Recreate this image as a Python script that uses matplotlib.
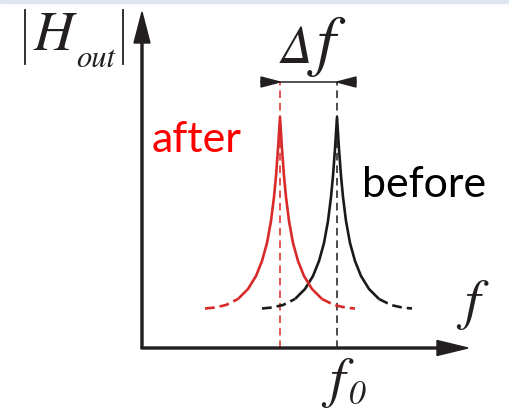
import numpy as np
import matplotlib
matplotlib.use("Agg")
import matplotlib.pyplot as plt
from matplotlib.patches import Rectangle, Polygon

plt.rcParams['lines.scale_dashes'] = False

# ---- data (arbitrary units; 1 unit ~ 10 px) ----
f0 = 19.5                 # resonance before
delta_f = 5.7             # shift
base_level = 3.9          # floor of the response
# response profile: offset from peak -> height above floor
profile_offset = [0.0, 0.2, 0.4, 0.6, 0.9, 1.3, 1.8, 2.4, 3.2, 4.2, 5.4, 6.5, 7.5]
profile_height = [19.2, 16.0, 13.3, 11.2, 8.8, 6.6, 4.8, 3.3, 2.0, 1.0, 0.4, 0.15, 0.05]
solid_limit = 4.2         # beyond this offset the curve is dashed
marker_level = 26.6       # height of the Δf dimension line
x_end, y_end = 32.6, 33.6 # axis arrow tips

series = {"before": (f0, '#1a1a1a'), "after": (f0 - delta_f, '#d92a2a')}

fig = plt.figure(figsize=(5.10, 4.16), dpi=100)
ax = fig.add_axes([0, 0, 1, 1])
ax.set_xlim(-14.2, 51.0 - 14.2)
ax.set_ylim(-6.8, 41.6 - 6.8)
ax.axis('off')

# top light band
fig.patches.append(Rectangle((0, 1 - 3 / 416), 1, 3 / 416, transform=fig.transFigure,
                             color='#dfe6f0', zorder=0))

off = np.array(profile_offset)
hgt = np.array(profile_height)
full_off = np.concatenate([-off[::-1], off[1:]])
full_h = np.concatenate([hgt[::-1], hgt[1:]]) + base_level

for name, (c, col) in series.items():
    x = c + full_off
    solid = np.abs(full_off) <= solid_limit
    ax.plot(x[solid], full_h[solid], color=col, lw=1.9, solid_capstyle='butt', zorder=3)
    left = full_off <= -solid_limit
    right = full_off >= solid_limit
    for m in (left, right):
        ax.plot(x[m], full_h[m], color=col, lw=1.9, ls=(0, (7.0, 3.6)), zorder=3)
    # vertical dashed marker
    ax.plot([c, c], [0, marker_level], color=col, lw=1.1, ls=(0, (5.5, 3.5)), zorder=2)

axis_col = '#231f20'
# axes with arrowheads
ax.arrow(0, 0, 0, y_end, width=0.2, head_width=1.6, head_length=3.1,
         length_includes_head=True, color=axis_col, zorder=4)
ax.arrow(-0.1, 0, x_end + 0.1, 0, width=0.2, head_width=1.5, head_length=3.1,
         length_includes_head=True, color=axis_col, zorder=4)

# Δf dimension line with inward arrowheads
a_len, a_hw = 1.9, 0.5
xa, xb = f0 - delta_f, f0
ax.plot([xa - a_len, xb + a_len], [marker_level, marker_level], color=axis_col, lw=1.1)
ax.add_patch(Polygon([[xa, marker_level], [xa - a_len, marker_level + a_hw],
                      [xa - a_len, marker_level - a_hw]], closed=True, color=axis_col))
ax.add_patch(Polygon([[xb, marker_level], [xb + a_len, marker_level + a_hw],
                      [xb + a_len, marker_level - a_hw]], closed=True, color=axis_col))

serif = dict(family='STIXGeneral', style='italic', color=axis_col)

# |H_out| label
ax.text(-10.9, 29.8, 'H', fontsize=40, ha='left', va='baseline', **serif)
ax.text(-6.6, 28.1, 'out', fontsize=22, ha='left', va='baseline', **serif)
for bx in (-11.7, -1.9):
    ax.plot([bx, bx], [28.4, 33.8], color=axis_col, lw=1.3)

# Δf label
ax.text(xa + 0.1, marker_level + 1.9, 'Δ', fontsize=38, ha='left', va='baseline', **serif)
ax.text(xa + 4.6, marker_level + 1.9, 'f', fontsize=48, ha='center', va='baseline', **serif)

# axis labels
ax.text(x_end + 0.4, 3.0, 'f', fontsize=40, ha='center', va='baseline', **serif)
ax.text(f0, -4.8, 'f', fontsize=40, ha='center', va='baseline', **serif)
ax.text(f0 + 1.15, -5.6, '0', fontsize=24, ha='left', va='baseline', **serif)

ax.text(1.0, 19.6, 'after', fontsize=31, family='Lato', color='#ff0000', ha='left', va='baseline')
ax.text(22.0, 15.1, 'before', fontsize=31, family='Lato', color='#000000', ha='left', va='baseline')

fig.savefig('out.png', dpi=100)
